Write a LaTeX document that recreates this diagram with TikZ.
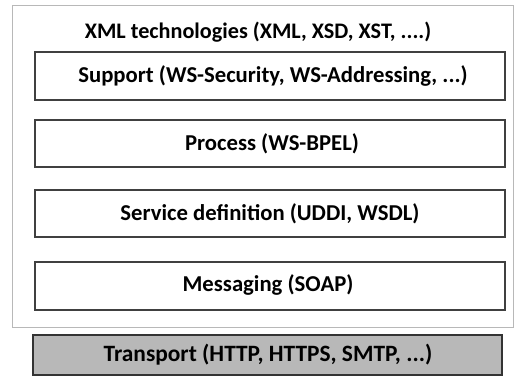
\documentclass[tikz,border=0pt]{standalone}
\usepackage{fontspec}
\setmainfont{Carlito}
\begin{document}
\begin{tikzpicture}[x=1pt,y=1pt,
  layer/.style={draw=black!75, line width=1.1pt, fill=white},
  lbl/.style={font=\fontsize{22.7}{24}\selectfont\bfseries, text=black},
  outer/.style={draw=black!28, line width=0.8pt}]
  \useasboundingbox (0,0) rectangle (519,383);
  \fill[white] (0,0) rectangle (519,383);
  % stack frame
  \draw[outer] (12,56) rectangle (513,378);
  \node[lbl, font=\fontsize{22.2}{24}\selectfont\bfseries] (xml) at (258,351) {XML technologies (XML, XSD, XST, ....)};
  % layers
  \draw[layer] (35,283) rectangle (505,331);
  \node[lbl] (support) at (273,307) {Support (WS-Security, WS-Addressing, ...)};
  \draw[layer] (35,216) rectangle (505,263);
  \node[lbl] (process) at (272,239) {Process (WS-BPEL)};
  \draw[layer] (35,146) rectangle (505,193);
  \node[lbl] (service) at (270,169.5) {Service definition (UDDI, WSDL)};
  \draw[layer] (35,73) rectangle (505,121);
  \node[lbl] (messaging) at (268,98) {Messaging (SOAP)};
  % transport layer
  \draw[draw=black!80, line width=1.3pt, fill=black!28] (33,8) rectangle (502,48);
  \node[lbl, font=\fontsize{23.4}{24}\selectfont\bfseries] (transport) at (268,28) {Transport (HTTP, HTTPS, SMTP, ...)};
\end{tikzpicture}
\end{document}
